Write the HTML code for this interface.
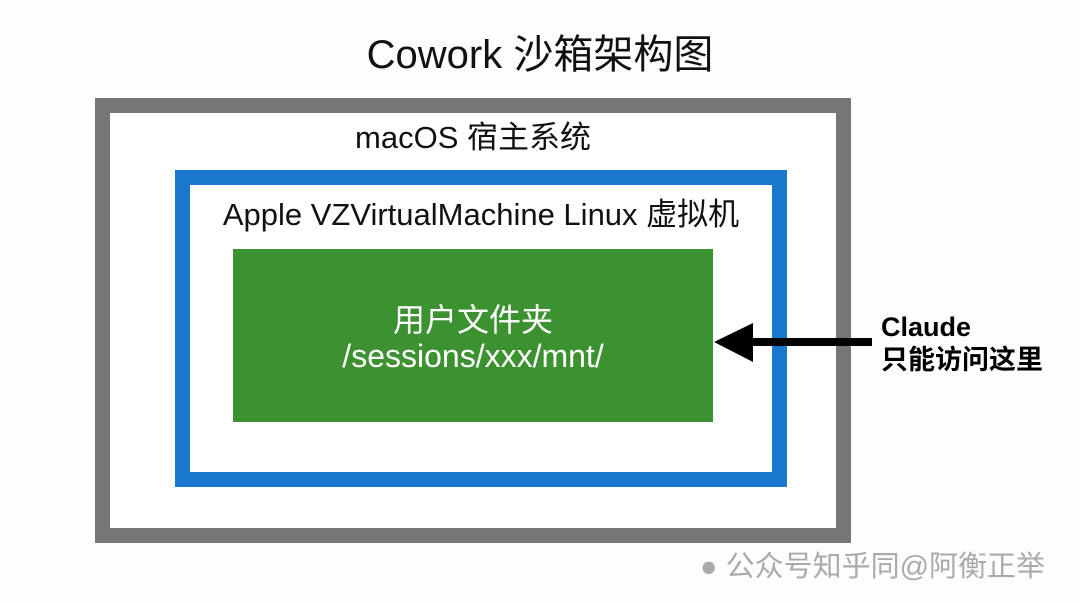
<!DOCTYPE html>
<html><head><meta charset="utf-8"><style>
body{margin:0;width:1080px;height:603px;background:#fdfdfd;position:relative;overflow:hidden;font-family:"Liberation Sans","Noto Sans CJK SC",sans-serif;}
.a{position:absolute;box-sizing:border-box}
.t{position:absolute;white-space:nowrap;color:#111}
</style></head><body>
<div class="t" style="left:0;width:1080px;text-align:center;top:30px;font-size:40px;line-height:50px">Cowork 沙箱架构图</div>
<div class="a" style="left:95px;top:98px;width:756px;height:445px;border:15px solid #767676;background:#fff"></div>
<div class="t" style="left:95px;width:756px;text-align:center;top:118px;font-size:31px;line-height:40px">macOS 宿主系统</div>
<div class="a" style="left:175px;top:170px;width:612px;height:317px;border:15px solid #1a78cc;background:#fff"></div>
<div class="t" style="left:175px;width:612px;text-align:center;top:195px;font-size:31px;line-height:40px">Apple VZVirtualMachine Linux 虚拟机</div>
<div class="a" style="left:233px;top:249px;width:480px;height:173px;background:#3c9231"></div>
<div class="t" style="left:233px;width:480px;text-align:center;top:302px;font-size:32px;color:#fff;line-height:36px">用户文件夹<br>/sessions/xxx/mnt/</div>
<div class="a" style="left:750px;top:338px;width:122px;height:8px;background:#000"></div>
<svg class="a" style="left:712px;top:320px" width="42" height="44"><polygon points="2,22 41,3 41,42" fill="#000"/></svg>
<div class="t" style="left:881px;top:311px;font-size:27px;font-weight:bold;line-height:33px;color:#000">Claude<br>只能访问这里</div>
<div class="t" style="left:700px;top:543px;font-size:29px;color:#aaa;">●&nbsp;公众号知乎同@阿衡正举</div>
</body></html>
